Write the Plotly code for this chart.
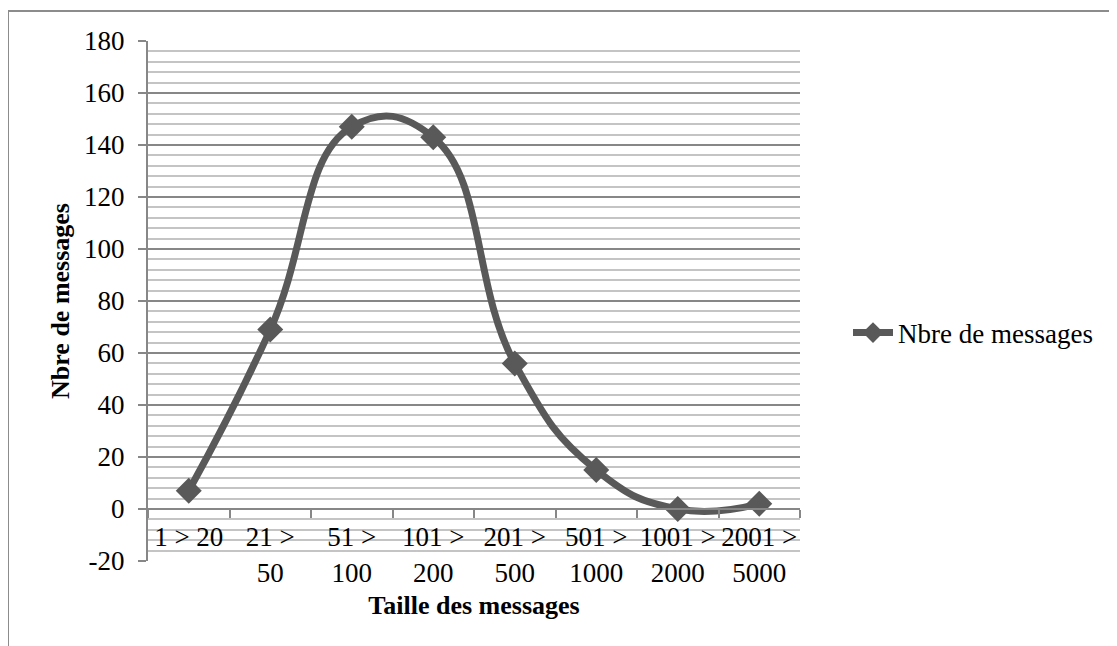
import plotly.graph_objects as go

categories = ["1 > 20", "21 ><br>50", "51 ><br>100", "101 ><br>200", "201 ><br>500",
              "501 ><br>1000", "1001 ><br>2000", "2001 ><br>5000"]
values = [7, 69, 147, 143, 56, 15, 0, 2]
y_ticks = [-20, 0, 20, 40, 60, 80, 100, 120, 140, 160, 180]
y_tick_labels = ["-20", "0", "20", "40", "60", "80", "100", "120", "140", "160", "180"]
series_name = "Nbre de messages"
x_title = "Taille des messages"
y_title = "Nbre de messages"

FONT = "Liberation Serif"
LINE_COLOR = "#595959"
MAJOR_GRID = "#878787"
MINOR_GRID = "#c4c4c4"

# page body has an 8px margin, so the figure is 8px smaller on each side
OFF = 8
W, H = 1117 - OFF, 646 - OFF
L, T = 148 - OFF, 41 - OFF
R, B = 1117 - 800, 646 - 561
plot_w = W - L - R
plot_h = H - T - B

fig = go.Figure()
fig.add_trace(go.Scatter(
    x=categories, y=values, name=series_name,
    mode="lines+markers",
    line=dict(color=LINE_COLOR, width=7, shape="spline", smoothing=1.3),
    marker=dict(symbol="diamond", size=20, color=LINE_COLOR),
))

ymin, ymax = -20, 180
zero_pos = (0 - ymin) / (ymax - ymin)

fig.update_layout(
    width=W, height=H,
    margin=dict(l=L, r=R, t=T, b=B, pad=0, autoexpand=False),
    paper_bgcolor="white", plot_bgcolor="white",
    font=dict(family=FONT, size=27, color="black"),
    showlegend=True,
    legend=dict(x=(848 - 148) / plot_w, y=(561 - 333) / plot_h, xanchor="left", yanchor="middle",
                font=dict(family=FONT, size=27, color="black"),
                bgcolor="rgba(0,0,0,0)", itemwidth=40),
    xaxis=dict(
        type="category", range=[-0.5, 7.5],
        anchor="free", position=zero_pos, automargin=False,
        showgrid=False, zeroline=False,
        showline=True, linecolor=MAJOR_GRID, linewidth=2,
        ticks="outside", ticklen=8, tickcolor=MAJOR_GRID, tickwidth=2,
        tickson="boundaries", tickangle=0, ticklabelstandoff=4,
        tickfont=dict(family=FONT, size=27, color="black"),
        title=dict(text="<b>" + x_title + "</b>", standoff=8,
                   font=dict(family=FONT, size=26, color="black")),
    ),
    yaxis=dict(
        range=[ymin, ymax], tickmode="array", tickvals=y_ticks, ticktext=y_tick_labels,
        automargin=False,
        showgrid=True, gridcolor=MAJOR_GRID, gridwidth=2,
        zeroline=False,
        showline=True, linecolor=MAJOR_GRID, linewidth=2,
        ticks="outside", ticklen=8, tickcolor=MAJOR_GRID, tickwidth=2,
        ticklabelstandoff=8,
        tickfont=dict(family=FONT, size=27, color="black"),
        minor=dict(dtick=4, tick0=0, showgrid=True, gridcolor=MINOR_GRID, gridwidth=2, ticks=""),
        title=dict(text="<b>" + y_title + "</b>", standoff=7,
                   font=dict(family=FONT, size=26, color="black")),
    ),
)

# outer chart frame (top and left edges visible)
fx = (8 - 148) / plot_w
fy = (561 - 11) / plot_h
fig.add_shape(type="line", xref="paper", yref="paper", x0=fx, y0=fy, x1=2.0, y1=fy,
              line=dict(color="#8c8c8c", width=2))
fig.add_shape(type="line", xref="paper", yref="paper", x0=fx, y0=fy, x1=fx, y1=-1.0,
              line=dict(color="#8c8c8c", width=2))

fig.write_html("out.html")
